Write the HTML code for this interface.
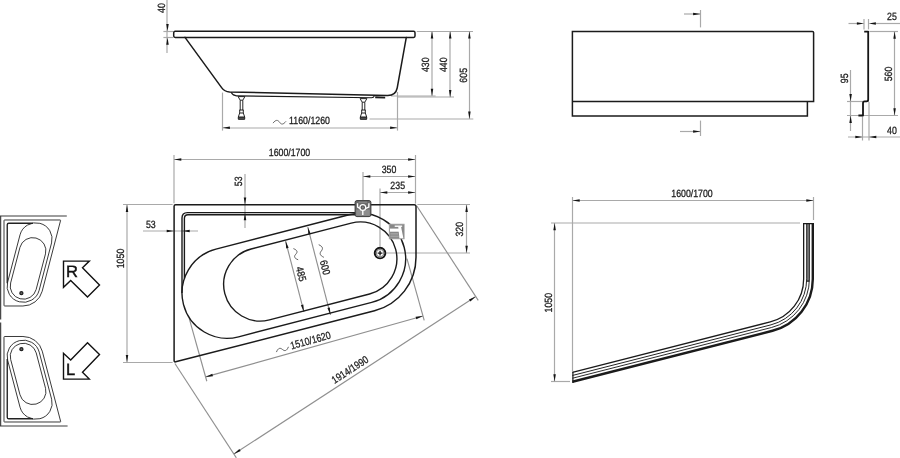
<!DOCTYPE html>
<html><head><meta charset="utf-8"><title>Bathtub technical drawing</title>
<style>html,body{margin:0;padding:0;background:#fff;}body{width:900px;height:458px;overflow:hidden;font-family:"Liberation Sans",sans-serif;}svg{display:block;font-family:"Liberation Sans",sans-serif;will-change:transform;}text{text-rendering:geometricPrecision;}</style>
</head><body>
<svg width="900" height="458" viewBox="0 0 900 458">
<line x1="167.00" y1="0.00" x2="167.00" y2="53.00" stroke="#a9a9a9" stroke-width="1.2" />
<line x1="163.40" y1="31.50" x2="173.00" y2="31.50" stroke="#a9a9a9" stroke-width="1.2" />
<line x1="163.40" y1="37.50" x2="173.00" y2="37.50" stroke="#a9a9a9" stroke-width="1.2" />
<polygon points="167.50,31.30 166.25,24.00 168.75,24.00" fill="#151515"/>
<polygon points="167.50,37.40 168.75,44.70 166.25,44.70" fill="#151515"/>
<line x1="222.50" y1="92.60" x2="222.50" y2="130.60" stroke="#a9a9a9" stroke-width="1.2" />
<line x1="397.50" y1="92.00" x2="397.50" y2="130.60" stroke="#a9a9a9" stroke-width="1.2" />
<line x1="222.60" y1="128.00" x2="397.40" y2="128.00" stroke="#a9a9a9" stroke-width="1.2" />
<polygon points="222.60,127.80 229.90,126.55 229.90,129.05" fill="#151515"/>
<polygon points="397.40,127.80 390.10,129.05 390.10,126.55" fill="#151515"/>
<line x1="416.80" y1="31.50" x2="473.00" y2="31.50" stroke="#a9a9a9" stroke-width="1.2" />
<line x1="391.00" y1="96.00" x2="435.60" y2="96.00" stroke="#a9a9a9" stroke-width="1.2" />
<line x1="397.80" y1="97.00" x2="454.00" y2="97.00" stroke="#a9a9a9" stroke-width="1.2" />
<line x1="369.50" y1="119.00" x2="473.30" y2="119.00" stroke="#a9a9a9" stroke-width="1.2" />
<line x1="432.00" y1="31.30" x2="432.00" y2="96.10" stroke="#a9a9a9" stroke-width="1.2" />
<polygon points="432.00,31.30 433.25,38.60 430.75,38.60" fill="#151515"/>
<polygon points="432.00,96.10 430.75,88.80 433.25,88.80" fill="#151515"/>
<line x1="450.00" y1="31.30" x2="450.00" y2="97.20" stroke="#a9a9a9" stroke-width="1.2" />
<polygon points="450.20,31.30 451.45,38.60 448.95,38.60" fill="#151515"/>
<polygon points="450.20,97.20 448.95,89.90 451.45,89.90" fill="#151515"/>
<line x1="469.50" y1="31.30" x2="469.50" y2="118.90" stroke="#a9a9a9" stroke-width="1.2" />
<polygon points="469.40,31.30 470.65,38.60 468.15,38.60" fill="#151515"/>
<polygon points="469.40,118.90 468.15,111.60 470.65,111.60" fill="#151515"/>
<line x1="700.50" y1="10.00" x2="700.50" y2="27.40" stroke="#a9a9a9" stroke-width="1.2" />
<line x1="684.00" y1="14.00" x2="700.40" y2="14.00" stroke="#a9a9a9" stroke-width="1.2" />
<polygon points="700.40,14.00 693.10,15.25 693.10,12.75" fill="#151515"/>
<line x1="700.50" y1="120.60" x2="700.50" y2="136.00" stroke="#a9a9a9" stroke-width="1.2" />
<line x1="680.00" y1="131.50" x2="700.40" y2="131.50" stroke="#a9a9a9" stroke-width="1.2" />
<polygon points="700.40,131.60 693.10,132.85 693.10,130.35" fill="#151515"/>
<line x1="848.50" y1="23.50" x2="857.00" y2="23.50" stroke="#a9a9a9" stroke-width="1.2" />
<line x1="876.00" y1="23.50" x2="900.00" y2="23.50" stroke="#a9a9a9" stroke-width="1.2" />
<line x1="864.00" y1="19.00" x2="864.00" y2="29.40" stroke="#a9a9a9" stroke-width="1.2" />
<line x1="868.50" y1="19.00" x2="868.50" y2="29.40" stroke="#a9a9a9" stroke-width="1.2" />
<polygon points="864.20,23.40 856.90,24.65 856.90,22.15" fill="#151515"/>
<polygon points="868.60,23.40 875.90,22.15 875.90,24.65" fill="#151515"/>
<line x1="869.40" y1="31.50" x2="898.00" y2="31.50" stroke="#a9a9a9" stroke-width="1.2" />
<line x1="847.00" y1="115.50" x2="898.00" y2="115.50" stroke="#a9a9a9" stroke-width="1.2" />
<line x1="894.50" y1="31.40" x2="894.50" y2="115.60" stroke="#a9a9a9" stroke-width="1.2" />
<polygon points="894.60,31.40 895.85,38.70 893.35,38.70" fill="#151515"/>
<polygon points="894.60,115.60 893.35,108.30 895.85,108.30" fill="#151515"/>
<line x1="847.00" y1="101.50" x2="869.00" y2="101.50" stroke="#a9a9a9" stroke-width="1.2" />
<line x1="850.50" y1="70.00" x2="850.50" y2="131.00" stroke="#a9a9a9" stroke-width="1.2" />
<polygon points="850.60,101.40 849.35,94.10 851.85,94.10" fill="#151515"/>
<polygon points="850.60,115.60 851.85,122.90 849.35,122.90" fill="#151515"/>
<line x1="848.00" y1="137.00" x2="900.00" y2="137.00" stroke="#a9a9a9" stroke-width="1.2" />
<line x1="862.50" y1="116.50" x2="862.50" y2="140.50" stroke="#a9a9a9" stroke-width="1.2" />
<line x1="869.00" y1="102.00" x2="869.00" y2="140.50" stroke="#a9a9a9" stroke-width="1.2" />
<polygon points="862.60,137.00 855.30,138.25 855.30,135.75" fill="#151515"/>
<polygon points="869.00,137.00 876.30,135.75 876.30,138.25" fill="#151515"/>
<line x1="174.00" y1="155.00" x2="174.00" y2="203.20" stroke="#a9a9a9" stroke-width="1.2" />
<line x1="415.50" y1="155.00" x2="415.50" y2="203.60" stroke="#a9a9a9" stroke-width="1.2" />
<line x1="174.00" y1="159.50" x2="415.40" y2="159.50" stroke="#a9a9a9" stroke-width="1.2" />
<polygon points="174.00,159.40 181.30,158.15 181.30,160.65" fill="#151515"/>
<polygon points="415.40,159.40 408.10,160.65 408.10,158.15" fill="#151515"/>
<line x1="363.00" y1="172.00" x2="363.00" y2="200.00" stroke="#a9a9a9" stroke-width="1.2" />
<line x1="363.00" y1="176.50" x2="415.40" y2="176.50" stroke="#a9a9a9" stroke-width="1.2" />
<polygon points="363.00,176.60 370.30,175.35 370.30,177.85" fill="#151515"/>
<polygon points="415.40,176.60 408.10,177.85 408.10,175.35" fill="#151515"/>
<line x1="380.00" y1="188.40" x2="380.00" y2="246.50" stroke="#a9a9a9" stroke-width="1.2" />
<line x1="380.00" y1="192.50" x2="415.40" y2="192.50" stroke="#a9a9a9" stroke-width="1.2" />
<polygon points="380.00,192.60 387.30,191.35 387.30,193.85" fill="#151515"/>
<polygon points="415.40,192.60 408.10,193.85 408.10,191.35" fill="#151515"/>
<line x1="245.00" y1="174.00" x2="245.00" y2="228.00" stroke="#a9a9a9" stroke-width="1.2" />
<polygon points="245.00,204.70 243.75,197.40 246.25,197.40" fill="#151515"/>
<polygon points="245.00,213.00 246.25,220.30 243.75,220.30" fill="#151515"/>
<line x1="143.00" y1="231.00" x2="198.00" y2="231.00" stroke="#a9a9a9" stroke-width="1.2" />
<polygon points="174.00,231.00 166.70,232.25 166.70,229.75" fill="#151515"/>
<polygon points="182.40,231.00 189.70,229.75 189.70,232.25" fill="#151515"/>
<line x1="123.00" y1="204.50" x2="172.60" y2="204.50" stroke="#a9a9a9" stroke-width="1.2" />
<line x1="123.00" y1="362.50" x2="172.60" y2="362.50" stroke="#a9a9a9" stroke-width="1.2" />
<line x1="127.00" y1="204.70" x2="127.00" y2="362.30" stroke="#a9a9a9" stroke-width="1.2" />
<polygon points="127.00,204.70 128.25,212.00 125.75,212.00" fill="#151515"/>
<polygon points="127.00,362.30 125.75,355.00 128.25,355.00" fill="#151515"/>
<line x1="417.40" y1="204.50" x2="470.00" y2="204.50" stroke="#a9a9a9" stroke-width="1.2" />
<line x1="386.40" y1="253.00" x2="470.00" y2="253.00" stroke="#a9a9a9" stroke-width="1.2" />
<line x1="466.50" y1="204.70" x2="466.50" y2="253.00" stroke="#a9a9a9" stroke-width="1.2" />
<polygon points="466.60,204.70 467.85,212.00 465.35,212.00" fill="#151515"/>
<polygon points="466.60,253.00 465.35,245.70 467.85,245.70" fill="#151515"/>
<line x1="307.80" y1="227.20" x2="330.46" y2="314.82" stroke="#909090" stroke-width="1.15" />
<polygon points="307.80,227.20 310.84,233.95 308.42,234.58" fill="#151515"/>
<polygon points="330.46,314.82 327.42,308.06 329.84,307.44" fill="#151515"/>
<line x1="285.60" y1="241.10" x2="303.93" y2="311.97" stroke="#909090" stroke-width="1.15" />
<polygon points="285.60,241.10 288.64,247.85 286.22,248.48" fill="#151515"/>
<polygon points="303.93,311.97 300.89,305.21 303.31,304.59" fill="#151515"/>
<line x1="205.60" y1="376.90" x2="423.00" y2="316.00" stroke="#909090" stroke-width="1.15" />
<polygon points="205.60,376.90 212.29,373.73 212.97,376.13" fill="#151515"/>
<polygon points="423.00,316.00 416.31,319.17 415.63,316.77" fill="#151515"/>
<line x1="189.14" y1="318.16" x2="206.81" y2="381.23" stroke="#909090" stroke-width="1.15" />
<line x1="406.95" y1="258.71" x2="424.21" y2="320.33" stroke="#909090" stroke-width="1.15" />
<line x1="233.88" y1="454.06" x2="475.78" y2="296.56" stroke="#909090" stroke-width="1.15" />
<polygon points="233.88,454.06 239.32,449.03 240.68,451.12" fill="#151515"/>
<polygon points="475.78,296.56 470.35,301.59 468.98,299.49" fill="#151515"/>
<line x1="174.92" y1="363.46" x2="236.34" y2="457.83" stroke="#909090" stroke-width="1.15" />
<line x1="416.82" y1="205.96" x2="478.24" y2="300.33" stroke="#909090" stroke-width="1.15" />
<line x1="572.50" y1="197.00" x2="572.50" y2="371.00" stroke="#a9a9a9" stroke-width="1.2" />
<line x1="813.50" y1="197.00" x2="813.50" y2="220.00" stroke="#a9a9a9" stroke-width="1.2" />
<line x1="572.40" y1="200.50" x2="813.60" y2="200.50" stroke="#a9a9a9" stroke-width="1.2" />
<polygon points="572.40,200.60 579.70,199.35 579.70,201.85" fill="#151515"/>
<polygon points="813.60,200.60 806.30,201.85 806.30,199.35" fill="#151515"/>
<line x1="551.00" y1="223.00" x2="800.00" y2="223.00" stroke="#a9a9a9" stroke-width="1.2" />
<line x1="551.00" y1="381.50" x2="570.00" y2="381.50" stroke="#a9a9a9" stroke-width="1.2" />
<line x1="554.50" y1="223.00" x2="554.50" y2="381.60" stroke="#a9a9a9" stroke-width="1.2" />
<polygon points="554.60,223.00 555.85,230.30 553.35,230.30" fill="#151515"/>
<polygon points="554.60,381.60 553.35,374.30 555.85,374.30" fill="#151515"/>
<g fill="none" stroke-linejoin="round" stroke-linecap="round">
<path d="M175.2,31.3 L413.6,31.3 Q415.0,31.3 415.0,32.8 L415.0,36 Q415.0,37.4 413.6,37.4 L175.2,37.4 Q173.7,37.4 173.7,36 L173.7,32.8 Q173.7,31.3 175.2,31.3 Z" stroke="#1b1b1b" stroke-width="1.5"/>
<path d="M185,37.4 L221.6,87.6 Q224.6,91.7 229.6,92.0 L387,95.5 Q395.6,95.9 397.2,88 L406.3,37.4" stroke="#1b1b1b" stroke-width="1.5"/>
<path d="M231.2,92.6 Q233,95.8 236.5,95.9 L371.5,97.7 Q373.8,97.7 374.2,96.2" stroke="#1b1b1b" stroke-width="1.1"/>
<path d="M375.2,97.3 L385.2,97.6" stroke="#1b1b1b" stroke-width="1.9" stroke-linecap="butt"/>
</g>
<g fill="none" stroke="#1b1b1b" stroke-width="0.95" stroke-linejoin="round">
<path d="M238.1,96.6 L240.2,100.19999999999999 L240.2,110.0 L239.7,110.0 L239.7,113.0 L238.3,117.0 L238.3,119.2 L244.7,119.2 L244.7,117.0 L243.3,113.0 L243.3,110.0 L242.8,110.0 L242.8,100.19999999999999 L244.9,96.6 Z"/>
<path d="M238.3,117.2 L244.7,117.2" stroke-width="1.4"/>
<path d="M238.3,118.9 L244.7,118.9" stroke-width="1.2"/>
<path d="M240.2,100.19999999999999 L242.8,100.19999999999999 M239.7,110.0 L243.3,110.0 M239.7,113.0 L243.3,113.0"/>
</g>
<g fill="none" stroke="#1b1b1b" stroke-width="0.95" stroke-linejoin="round">
<path d="M360.1,98.6 L362.2,102.19999999999999 L362.2,110.0 L361.7,110.0 L361.7,113.0 L360.3,117.0 L360.3,119.2 L366.7,119.2 L366.7,117.0 L365.3,113.0 L365.3,110.0 L364.8,110.0 L364.8,102.19999999999999 L366.9,98.6 Z"/>
<path d="M360.3,117.2 L366.7,117.2" stroke-width="1.4"/>
<path d="M360.3,118.9 L366.7,118.9" stroke-width="1.2"/>
<path d="M362.2,102.19999999999999 L364.8,102.19999999999999 M361.7,110.0 L365.3,110.0 M361.7,113.0 L365.3,113.0"/>
</g>
<text transform="translate(164.90,8.00) rotate(-90.00) scale(0.836,1)" font-size="10.5" text-anchor="middle" fill="#1b1b1b" stroke="#1b1b1b" stroke-width="0.28" >40</text>
<text transform="translate(309.50,124.40) rotate(0.00) scale(0.836,1)" font-size="10.5" text-anchor="middle" fill="#1b1b1b" stroke="#1b1b1b" stroke-width="0.28" >1160/1260</text>
<path transform="translate(279.50,122.20) rotate(0.00)" d="M-6.5,0.91 C-3.58,-2.86 -1.62,-2.34 0,0 C1.62,2.34 3.58,2.86 6.5,-0.91" fill="none" stroke="#555" stroke-width="0.85"/>
<text transform="translate(428.90,64.70) rotate(-90.00) scale(0.836,1)" font-size="10.5" text-anchor="middle" fill="#1b1b1b" stroke="#1b1b1b" stroke-width="0.28" >430</text>
<text transform="translate(447.30,64.70) rotate(-90.00) scale(0.836,1)" font-size="10.5" text-anchor="middle" fill="#1b1b1b" stroke="#1b1b1b" stroke-width="0.28" >440</text>
<text transform="translate(466.50,75.30) rotate(-90.00) scale(0.836,1)" font-size="10.5" text-anchor="middle" fill="#1b1b1b" stroke="#1b1b1b" stroke-width="0.28" >605</text>
<path d="M572.4,31.4 L812.4,31.4 Q813.6,31.4 813.6,32.6 L813.6,101.6 L807.4,101.6 L807.4,116 L572.4,116 Z M572.4,101.6 L807.4,101.6" fill="none" stroke="#1b1b1b" stroke-width="1.5" stroke-linejoin="miter"/>
<path d="M864.2,31.6 L868.2,31.6 L868.2,99.6 Q868.2,101.4 866.4,101.4 L864.6,101.4 Q863,101.4 863,103 L863,115.5 L858.4,115.5" fill="none" stroke="#151515" stroke-width="1.8" stroke-linejoin="round"/>
<text transform="translate(892.00,20.00) rotate(0.00) scale(0.836,1)" font-size="10.5" text-anchor="middle" fill="#1b1b1b" stroke="#1b1b1b" stroke-width="0.28" >25</text>
<text transform="translate(891.50,74.00) rotate(-90.00) scale(0.836,1)" font-size="10.5" text-anchor="middle" fill="#1b1b1b" stroke="#1b1b1b" stroke-width="0.28" >560</text>
<text transform="translate(847.60,78.30) rotate(-90.00) scale(0.836,1)" font-size="10.5" text-anchor="middle" fill="#1b1b1b" stroke="#1b1b1b" stroke-width="0.28" >95</text>
<text transform="translate(892.00,134.00) rotate(0.00) scale(0.836,1)" font-size="10.5" text-anchor="middle" fill="#1b1b1b" stroke="#1b1b1b" stroke-width="0.28" >40</text>
<text transform="translate(289.50,155.60) rotate(0.00) scale(0.836,1)" font-size="10.5" text-anchor="middle" fill="#1b1b1b" stroke="#1b1b1b" stroke-width="0.28" >1600/1700</text>
<text transform="translate(389.00,173.40) rotate(0.00) scale(0.836,1)" font-size="10.5" text-anchor="middle" fill="#1b1b1b" stroke="#1b1b1b" stroke-width="0.28" >350</text>
<text transform="translate(397.70,189.40) rotate(0.00) scale(0.836,1)" font-size="10.5" text-anchor="middle" fill="#1b1b1b" stroke="#1b1b1b" stroke-width="0.28" >235</text>
<text transform="translate(241.90,181.30) rotate(-90.00) scale(0.836,1)" font-size="10.5" text-anchor="middle" fill="#1b1b1b" stroke="#1b1b1b" stroke-width="0.28" >53</text>
<text transform="translate(150.80,228.00) rotate(0.00) scale(0.836,1)" font-size="10.5" text-anchor="middle" fill="#1b1b1b" stroke="#1b1b1b" stroke-width="0.28" >53</text>
<text transform="translate(123.90,258.50) rotate(-90.00) scale(0.836,1)" font-size="10.5" text-anchor="middle" fill="#1b1b1b" stroke="#1b1b1b" stroke-width="0.28" >1050</text>
<text transform="translate(463.00,229.20) rotate(-90.00) scale(0.836,1)" font-size="10.5" text-anchor="middle" fill="#1b1b1b" stroke="#1b1b1b" stroke-width="0.28" >320</text>
<text transform="translate(321.60,268.40) rotate(75.50) scale(0.836,1)" font-size="10.5" text-anchor="middle" fill="#1b1b1b" stroke="#1b1b1b" stroke-width="0.28" >600</text>
<text transform="translate(297.70,274.80) rotate(75.50) scale(0.836,1)" font-size="10.5" text-anchor="middle" fill="#1b1b1b" stroke="#1b1b1b" stroke-width="0.28" >485</text>
<path transform="translate(321.30,251.00) rotate(75.50)" d="M-6.75,0.91 C-3.71,-2.86 -1.69,-2.34 0,0 C1.69,2.34 3.71,2.86 6.75,-0.91" fill="none" stroke="#555" stroke-width="0.85"/>
<path transform="translate(295.80,254.20) rotate(75.50)" d="M-6.0,0.91 C-3.30,-2.86 -1.50,-2.34 0,0 C1.50,2.34 3.30,2.86 6.0,-0.91" fill="none" stroke="#555" stroke-width="0.85"/>
<text transform="translate(311.50,343.80) rotate(-15.65) scale(0.836,1)" font-size="10.5" text-anchor="middle" fill="#1b1b1b" stroke="#1b1b1b" stroke-width="0.28" >1510/1620</text>
<path transform="translate(282.45,349.45) rotate(-15.65)" d="M-6.5,0.91 C-3.58,-2.86 -1.62,-2.34 0,0 C1.62,2.34 3.58,2.86 6.5,-0.91" fill="none" stroke="#555" stroke-width="0.85"/>
<text transform="translate(352.00,372.70) rotate(-33.06) scale(0.836,1)" font-size="10.5" text-anchor="middle" fill="#1b1b1b" stroke="#1b1b1b" stroke-width="0.28" >1914/1990</text>
<g fill="none" stroke="#1b1b1b" stroke-linejoin="round" >
<path d="M175.6,204.7 L414.2,204.7 Q416,204.7 416,206.5 L416,257.27 A55.20,55.20 0 0 1 374.53,310.74 L175.65,361.80 Q174.10,362.20 174.10,360.60 L174.1,206.2 Q174.1,204.7 175.6,204.7 Z" stroke-width="1.5"/>
<path d="M182,293.00 L182,218 Q182,212.6 187.4,212.6 L355.5,212.6" stroke-width="1.4"/>
<path d="M184.4,278.46 L184.4,218.4 Q184.4,214.8 188,214.8 L355.5,214.8" stroke-width="1.4"/>
<path d="M215.92,249.19 L349.04,214.76 A45.25,45.25 0 0 1 371.70,302.38 L238.58,336.81 A45.25,45.25 0 0 1 215.92,249.19 Z" stroke-width="1.4"/>
<path d="M251.10,249.03 L351.21,223.14 A36.6,36.6 0 0 1 369.53,294.01 L269.43,319.90 A36.6,36.6 0 0 1 251.10,249.03 Z" stroke-width="1.4"/>
</g>
<circle cx="380.05" cy="253.05" r="5.3" fill="#fff" stroke="#141414" stroke-width="1.9"/>
<circle cx="380.05" cy="253.05" r="3.8" fill="#fff" stroke="#555" stroke-width="0.8"/>
<path d="M377.65000000000003,253.05 L382.45,253.05 M380.05,250.65 L380.05,255.45000000000002" stroke="#141414" stroke-width="1.35" fill="none"/>
<rect x="355.1" y="200.6" width="15.80" height="16.00" rx="1.8" ry="1.8" fill="#6c6c6c" stroke="#3c3c3c" stroke-width="1"/>
<rect x="356.20000000000005" y="209.6" width="13.60" height="6.2" fill="#8c8c8c"/>
<path d="M358.6,202.2 L367,202.2" stroke="#9a9a9a" stroke-width="0.8" fill="none"/>
<path d="M357.5,203.3 L357.6,207.2 L360.3,208.6 M368.9,203.3 L368.8,207.2 L365.3,208.6 M362.8,210.4 L362.8,214.9" fill="none" stroke="#fff" stroke-width="1.35" stroke-linejoin="round"/>
<circle cx="362.8" cy="207.4" r="2.9" fill="#585858" stroke="#fff" stroke-width="1.25"/>
<circle cx="362.8" cy="207.4" r="1.0" fill="#8a8a8a"/>
<rect x="389.2" y="224.1" width="15.00" height="14.80" fill="#878787" stroke="#a8a8a8" stroke-width="0.7"/>
<rect x="390.4" y="233" width="7.8" height="1.6" fill="#a2a2a2"/>
<rect x="390.4" y="235.6" width="8.4" height="1.6" fill="#a2a2a2"/>
<path d="M394.7,225.5 L402.2,225.5 L402.2,226.9 L394.7,226.9 Z" fill="#fff"/>
<path d="M390,228.6 L399.9,228.6 L399.9,231.7 L390,231.7 Z" fill="#fff"/>
<path d="M398.2,226.5 L401,226.5 L403.4,238.2 L399.4,238.2 Z" fill="#fff"/>
<g transform="matrix(0 0.3555 0.36 0 -69.692 158.107)" fill="none" stroke="#222" stroke-linejoin="round">
<path d="M175.6,204.7 L414.2,204.7 Q416,204.7 416,206.5 L416,257.27 A55.20,55.20 0 0 1 374.53,310.74 L175.65,361.80 Q174.10,362.20 174.10,360.60 L174.1,206.2 Q174.1,204.7 175.6,204.7 Z" stroke-width="2.5"/>
<path d="M183.2,285.00 L183.2,218 Q183.2,213.7 187.6,213.7 L352,213.7" stroke-width="3.8"/>
<path d="M215.92,249.19 L349.04,214.76 A45.25,45.25 0 0 1 371.70,302.38 L238.58,336.81 A45.25,45.25 0 0 1 215.92,249.19 Z" stroke-width="2.5"/>
<path d="M251.10,249.03 L351.21,223.14 A36.6,36.6 0 0 1 369.53,294.01 L269.43,319.90 A36.6,36.6 0 0 1 251.10,249.03 Z" stroke-width="2.5"/>
<circle cx="380" cy="253" r="4.2" stroke-width="3.6" fill="#666"/>
</g>
<path d="M0,216 L66.8,216 M0.65,215.4 L0.65,319.4" stroke="#3c3c3c" stroke-width="1.15" fill="none"/>
<g transform="matrix(0 -0.3535 0.3606 0 -69.815 483.544)" fill="none" stroke="#222" stroke-linejoin="round">
<path d="M175.6,204.7 L414.2,204.7 Q416,204.7 416,206.5 L416,257.27 A55.20,55.20 0 0 1 374.53,310.74 L175.65,361.80 Q174.10,362.20 174.10,360.60 L174.1,206.2 Q174.1,204.7 175.6,204.7 Z" stroke-width="2.5"/>
<path d="M183.2,285.00 L183.2,218 Q183.2,213.7 187.6,213.7 L352,213.7" stroke-width="3.8"/>
<path d="M215.92,249.19 L349.04,214.76 A45.25,45.25 0 0 1 371.70,302.38 L238.58,336.81 A45.25,45.25 0 0 1 215.92,249.19 Z" stroke-width="2.5"/>
<path d="M251.10,249.03 L351.21,223.14 A36.6,36.6 0 0 1 369.53,294.01 L269.43,319.90 A36.6,36.6 0 0 1 251.10,249.03 Z" stroke-width="2.5"/>
<circle cx="380" cy="253" r="4.2" stroke-width="3.6" fill="#666"/>
</g>
<path d="M0,426 L67.6,426 M0.65,322.4 L0.65,426.6" stroke="#3c3c3c" stroke-width="1.15" fill="none"/>
<polygon points="63.5,261.1 89.3,261.1 82.5,267.7 99.5,285.1 87.5,296.9 70.7,280.4 63.5,287.3" fill="#fff" stroke="#111" stroke-width="1.4" stroke-linejoin="miter"/>
<text transform="translate(71.90,276.50) rotate(0.00) scale(1,1)" font-size="16.5" text-anchor="middle" fill="#111" stroke="#111" stroke-width="0.28" style="stroke-width:0.45">R</text>
<polygon points="63.5,379.1 63.5,353.3 70.7,360.1 87.5,342.8 99.5,354.6 82.5,372.2 89.3,379.1" fill="#fff" stroke="#111" stroke-width="1.4" stroke-linejoin="miter"/>
<text transform="translate(70.70,374.70) rotate(0.00) scale(1,1)" font-size="16.5" text-anchor="middle" fill="#111" stroke="#111" stroke-width="0.28" style="stroke-width:0.45">L</text>
<rect x="806.70" y="223.2" width="2.7" height="58.00" fill="#7d7d7d"/>
<path d="M812.80,223.2 L812.80,278.91 A53.50,53.50 0 0 1 772.51,330.75 L572.40,381.76" fill="none" stroke="#1b1b1b" stroke-width="2.4"/>
<path d="M803.65,223.2 L803.65,278.91 A44.35,44.35 0 0 1 770.25,321.89 L572.40,372.32" fill="none" stroke="#1b1b1b" stroke-width="1.3"/>
<path d="M809.40,223.2 L809.40,278.91 A50.10,50.10 0 0 1 771.67,327.46 L572.40,378.25" fill="none" stroke="#222" stroke-width="0.95"/>
<path d="M806.70,223.2 L806.70,278.91 A47.40,47.40 0 0 1 771.01,324.84 L572.40,375.47" fill="none" stroke="#222" stroke-width="1.0"/>
<path d="M814.00,223.2 L814.00,278.91 A54.70,54.70 0 0 1 772.81,331.92 L572.40,383.00" fill="none" stroke="none" stroke-width="0.01"/>
<path d="M803.00,223.2 L803.00,278.91 A43.70,43.70 0 0 1 770.09,321.26 L572.40,371.65" fill="none" stroke="none" stroke-width="0.01"/>
<path d="M803.00,223.6 L814.00,223.6 M572.90,383.00 L572.90,371.65 M806.70,281.2 L809.40,281.2" stroke="#1b1b1b" stroke-width="1.2" fill="none"/>
<text transform="translate(692.00,197.00) rotate(0.00) scale(0.836,1)" font-size="10.5" text-anchor="middle" fill="#1b1b1b" stroke="#1b1b1b" stroke-width="0.28" >1600/1700</text>
<text transform="translate(551.70,302.70) rotate(-90.00) scale(0.836,1)" font-size="10.5" text-anchor="middle" fill="#1b1b1b" stroke="#1b1b1b" stroke-width="0.28" >1050</text>
</svg></body></html>
